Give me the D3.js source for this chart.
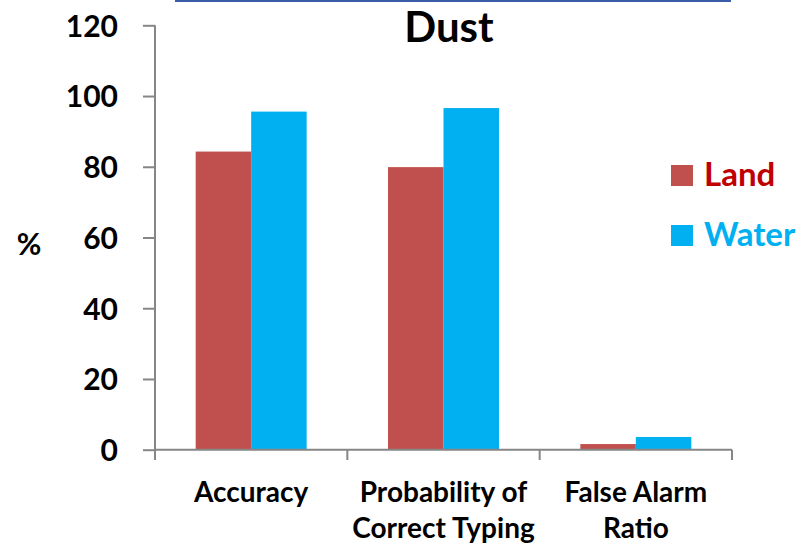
<!DOCTYPE html>
<html>
<head>
<meta charset="utf-8">
<script src="https://cdn.jsdelivr.net/npm/d3@7"></script>
<style>
  body { margin: 0; background: #fff; }
  svg { display: block; font-family: Lato, "Open Sans", sans-serif; font-weight: bold; }
</style>
</head>
<body>
<svg id="chart" width="800" height="545"></svg>
<script>
// data
var categories = [['Accuracy'], ['Probability of', 'Correct Typing'], ['False Alarm', 'Ratio']]
var series = ['Land', 'Water']
var land = [84.3, 79.9, 1.6]
var water = [95.6, 96.6, 3.6]
var yTicks = [0, 20, 40, 60, 80, 100, 120]

var colors = {Land: '#C0504D', Water: '#00B0F0'}
var textColors = {Land: '#C00000', Water: '#00B0F0'}

var svg = d3.select('#chart')
var plotL = 155, plotR = 732, plotT = 25.3, plotB = 449.7

var x0 = d3.scaleBand()
    .domain(d3.range(categories.length))
    .range([plotL, plotR])
    .paddingInner(0.423)
    .paddingOuter(0.2115)

var x1 = d3.scaleBand()
    .domain(series)
    .range([0, x0.bandwidth()])

var y = d3.scaleLinear()
    .domain([0, 120])
    .range([plotB, plotT])

// blue rule at the very top
svg.append('line')
    .attr('x1', 175).attr('x2', 731)
    .attr('y1', 1).attr('y2', 1)
    .attr('stroke', '#3A5DA8')
    .attr('stroke-width', 2)

// title
svg.append('text')
    .attr('x', 449).attr('y', 42)
    .attr('text-anchor', 'middle')
    .attr('font-size', 42)
    .text('Dust')

// bars
var rows = categories.map(function (c, i) {
  return {i: i, values: [{k: 'Land', v: land[i]}, {k: 'Water', v: water[i]}]}
})

var groups = svg.append('g').selectAll('g')
    .data(rows)
    .join('g')
    .attr('transform', function (d) { return 'translate(' + x0(d.i) + ',0)' })

groups.selectAll('rect')
    .data(function (d) { return d.values })
    .join('rect')
    .attr('x', function (d) { return x1(d.k) })
    .attr('width', x1.bandwidth())
    .attr('y', function (d) { return y(d.v) })
    .attr('height', function (d) { return y(0) - y(d.v) })
    .attr('fill', function (d) { return colors[d.k] })

// y axis
var yAxis = d3.axisLeft(y).tickValues(yTicks).tickSize(12).tickPadding(25)
var gy = svg.append('g')
    .attr('transform', 'translate(' + plotL + ',0)')
    .call(yAxis)
gy.select('.domain').attr('d', 'M0,' + plotT + 'V460').attr('stroke', '#868686').attr('stroke-width', 2)
gy.selectAll('.tick line').attr('stroke', '#868686').attr('stroke-width', 2)
gy.selectAll('.tick text')
    .attr('font-size', 30).attr('font-family', 'Lato').attr('font-weight', 'bold')
    .attr('fill', '#000').attr('dy', '0.36em')

// x axis with ticks at category boundaries
var bounds = d3.range(categories.length + 1).map(function (i) { return plotL + i * x0.step() })
var gx = svg.append('g')
gx.append('line')
    .attr('x1', plotL).attr('x2', plotR)
    .attr('y1', plotB).attr('y2', plotB)
    .attr('stroke', '#868686').attr('stroke-width', 2)
gx.selectAll('.bt')
    .data(bounds)
    .join('line')
    .attr('class', 'bt')
    .attr('x1', function (d) { return d }).attr('x2', function (d) { return d })
    .attr('y1', plotB).attr('y2', 460)
    .attr('stroke', '#868686').attr('stroke-width', 2)

gx.selectAll('.cat')
    .data(categories)
    .join('text')
    .attr('class', 'cat')
    .attr('text-anchor', 'middle')
    .attr('font-size', 28)
    .attr('transform', function (d, i) { return 'translate(' + (x0(i) + x0.bandwidth() / 2) + ',502)' })
    .selectAll('tspan')
    .data(function (d) { return d })
    .join('tspan')
    .attr('x', 0)
    .attr('y', function (d, j) { return j * 36 })
    .text(function (d) { return d })

// y label
svg.append('text')
    .attr('x', 29).attr('y', 255)
    .attr('text-anchor', 'middle')
    .attr('font-size', 30)
    .text('%')

// legend
var legend = svg.append('g').selectAll('g')
    .data(series)
    .join('g')
    .attr('transform', function (d, i) { return 'translate(671,' + (165 + i * 60) + ')' })
legend.append('rect')
    .attr('width', 22).attr('height', 21)
    .attr('fill', function (d) { return colors[d] })
legend.append('text')
    .attr('x', 33).attr('y', 21)
    .attr('font-size', 33)
    .attr('fill', function (d) { return textColors[d] })
    .text(function (d) { return d })
</script>
</body>
</html>
